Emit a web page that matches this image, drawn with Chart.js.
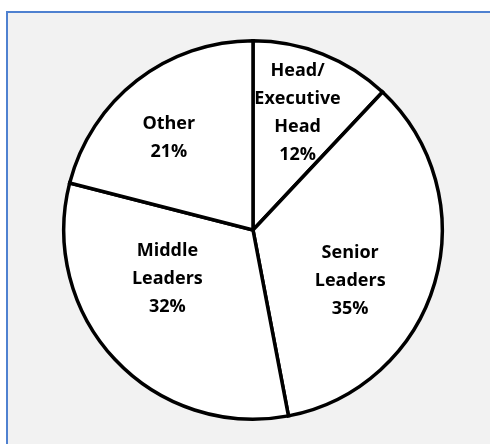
<!DOCTYPE html>
<html lang="en">
<head>
  <meta charset="UTF-8" />
  <title>Leadership roles</title>
  <script src="https://cdn.jsdelivr.net/npm/chart.js"></script>
  <style>
    html, body { margin: 0; padding: 0; background: #ffffff; }
    .frame {
      position: absolute;
      left: 6px; top: 11px;
      width: 484px; height: 433px;
      background: #f2f2f2;
      border-top: 2px solid #4f81d0;
      border-left: 2px solid #4f81d0;
    }
    .wrap { position: absolute; left: 0; top: 0; width: 490px; height: 444px; }
  </style>
</head>
<body>
  <div class="frame"></div>
  <div class="wrap"><canvas id="roleChart" width="490" height="444"></canvas></div>

  <script>
    // slice data, clockwise from 12 o'clock
    const categories = [['Head/', 'Executive', 'Head'], ['Senior', 'Leaders'], ['Middle', 'Leaders'], ['Other']];
    const shares = [12, 35, 32, 21];

    // label placement tweaks: angle shift (deg, clockwise) and radius fraction
    const labelShift = [-0.7, 11.5, 13.7, -4.6];
    const labelRadius = [0.66, 0.58, 0.52, 0.66];

    const sliceLabels = {
      id: 'sliceLabels',
      afterDatasetsDraw(chart) {
        const ctx = chart.ctx;
        const arcs = chart.getDatasetMeta(0).data;
        ctx.save();
        ctx.font = 'bold 18px "Open Sans", Lato, sans-serif';
        ctx.fillStyle = '#000000';
        ctx.textAlign = 'center';
        ctx.textBaseline = 'middle';
        const lineH = 28;
        arcs.forEach(function(arc, i) {
          const p = arc.getProps(['x', 'y', 'startAngle', 'endAngle', 'outerRadius'], true);
          const mid = (p.startAngle + p.endAngle) / 2 + labelShift[i] * Math.PI / 180;
          const r = p.outerRadius * labelRadius[i];
          const cx = p.x + Math.cos(mid) * r;
          const cy = p.y + Math.sin(mid) * r;
          const lines = categories[i].concat([shares[i] + '%']);
          const top = cy - (lines.length - 1) * lineH / 2;
          lines.forEach(function(t, j) {
            ctx.fillText(t, cx, top + j * lineH);
          });
        });
        ctx.restore();
      }
    };

    const ctx = document.getElementById('roleChart').getContext('2d');
    new Chart(ctx, {
      type: 'pie',
      data: {
        labels: categories.map(function(c) { return c.join(' '); }),
        datasets: [{
          data: shares,
          backgroundColor: '#ffffff',
          borderColor: '#000000',
          borderWidth: 3.5,
          borderJoinStyle: 'miter'
        }]
      },
      options: {
        responsive: false,
        animation: false,
        layout: { padding: { left: 62, right: 46, top: 39, bottom: 23 } },
        plugins: {
          legend: { display: false },
          tooltip: { enabled: false }
        }
      },
      plugins: [sliceLabels]
    });
  </script>
</body>
</html>
